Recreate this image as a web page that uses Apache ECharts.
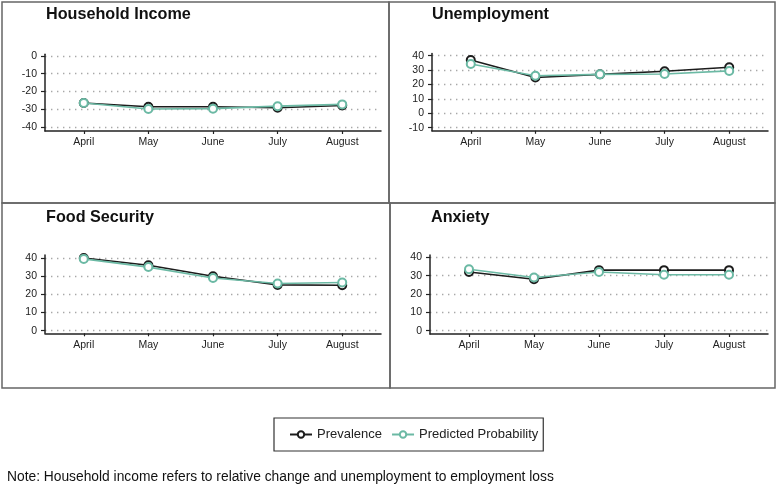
<!DOCTYPE html>
<html>
<head>
<meta charset="utf-8">
<script src="https://cdn.jsdelivr.net/npm/echarts@6/dist/echarts.min.js"></script>
<style>
html,body{margin:0;padding:0;background:#fff;}
#c{width:777px;height:486px;}
</style>
</head>
<body>
<div id="c"></div>
<script>
// ---- data ----
const months = ['April', 'May', 'June', 'July', 'August'];
const seriesNames = ['Prevalence', 'Predicted Probability'];
const panelTitles = ['Household Income', 'Unemployment', 'Food Security', 'Anxiety'];

const incomePrev = [-26.4, -28.5, -28.5, -29.1, -27.8];
const incomePred = [-26.4, -29.8, -29.6, -28.2, -27.2];
const unempPrev = [37, 24.8, 27, 29.2, 32];
const unempPred = [34.2, 26, 27, 27.3, 29.4];
const foodPrev = [40, 36, 30, 25.2, 25];
const foodPred = [39.5, 35, 29, 26, 26.5];
const anxPrev = [32, 28, 33, 33, 33];
const anxPred = [33.5, 29, 32, 30.5, 30.5];

const incomeTicks = [-40, -30, -20, -10, 0];
const unempTicks = [-10, 0, 10, 20, 30, 40];
const foodTicks = [0, 10, 20, 30, 40];
const anxTicks = [0, 10, 20, 30, 40];
const monthTicks = [0, 1, 2, 3, 4];

const noteText = 'Note: Household income refers to relative change and unemployment to employment loss';

// ---- layout / style ----
const FONT = 'Liberation Sans, Arial, Helvetica, sans-serif';
const colPrev = '#1c1c1c';
const colPred = '#6bb9a4';

const panels = [
  {title: panelTitles[0], prev: incomePrev, pred: incomePred, ticks: incomeTicks, ymin: -42.1, ymax: 0.84,
   grid: {left: 45, right: 396, top: 54.3, bottom: 355}, tx: 46, ty: 7},
  {title: panelTitles[1], prev: unempPrev, pred: unempPred, ticks: unempTicks, ymin: -12.2, ymax: 41.5,
   grid: {left: 432, right: 9, top: 53.5, bottom: 355.2}, tx: 432, ty: 7},
  {title: panelTitles[2], prev: foodPrev, pred: foodPred, ticks: foodTicks, ymin: -1.43, ymax: 41.65,
   grid: {left: 45, right: 396, top: 255, bottom: 152.7}, tx: 46, ty: 210},
  {title: panelTitles[3], prev: anxPrev, pred: anxPred, ticks: anxTicks, ymin: -1.8, ymax: 41.25,
   grid: {left: 430, right: 9, top: 255, bottom: 152}, tx: 431, ty: 210}
];

const grids = [], xAxes = [], yAxes = [], series = [], titles = [];
panels.forEach((p, i) => {
  grids.push(Object.assign({containLabel: false}, p.grid));
  titles.push({
    text: p.title, left: p.tx, top: p.ty, padding: 0,
    textStyle: {fontFamily: FONT, fontSize: 16.2, fontWeight: 'bold', color: '#111'}
  });
  xAxes.push({
    gridIndex: i, type: 'value', min: -0.6, max: 4.6, position: 'bottom',
    axisLine: {show: true, onZero: false, lineStyle: {color: '#222', width: 1.5}},
    axisTick: {show: true, length: 3, customValues: monthTicks, lineStyle: {color: '#222', width: 1.2}},
    axisLabel: {customValues: monthTicks, margin: 6, fontFamily: FONT, fontSize: 10.5, color: '#222',
      formatter: v => months[Math.round(v)] || ''},
    splitLine: {show: false}
  });
  yAxes.push({
    gridIndex: i, type: 'value', min: p.ymin, max: p.ymax, position: 'left',
    axisLine: {show: true, onZero: false, lineStyle: {color: '#222', width: 1.5}},
    axisTick: {show: true, length: 4, customValues: p.ticks, lineStyle: {color: '#222', width: 1.2}},
    axisLabel: {customValues: p.ticks, margin: 8, fontFamily: FONT, fontSize: 10.5, color: '#222'},
    splitLine: {show: true, showMinLine: true, showMaxLine: true,
      lineStyle: {color: '#a8a8a8', width: 1.4, type: [1.4, 4.6]}}
  });
  [[p.prev, colPrev, 0], [p.pred, colPred, 1]].forEach(([arr, col, k]) => {
    series.push({
      name: seriesNames[k], type: 'line', xAxisIndex: i, yAxisIndex: i,
      data: months.map((m, j) => [j, arr[j]]),
      symbol: 'emptyCircle', symbolSize: 8, showSymbol: true,
      lineStyle: {color: col, width: 1.6},
      itemStyle: {color: col, borderWidth: 1.2},
      z: 3 + k, animation: false
    });
  });
});

const option = {
  backgroundColor: '#fff',
  animation: false,
  title: titles,
  grid: grids,
  xAxis: xAxes,
  yAxis: yAxes,
  series: series,
  legend: {
    data: seriesNames, left: 274, top: 418, orient: 'horizontal',
    padding: [10, 5, 10, 15], itemGap: 9, itemWidth: 22, itemHeight: 8,
    borderColor: '#333', borderWidth: 1.2,
    textStyle: {fontFamily: FONT, fontSize: 13, color: '#222'}
  },
  graphic: [
    {type: 'rect', shape: {x: 2, y: 2, width: 387, height: 201}, style: {fill: 'none', stroke: '#666', lineWidth: 1.5}, silent: true},
    {type: 'rect', shape: {x: 389, y: 2, width: 386, height: 201}, style: {fill: 'none', stroke: '#666', lineWidth: 1.5}, silent: true},
    {type: 'rect', shape: {x: 2, y: 203, width: 388, height: 185}, style: {fill: 'none', stroke: '#666', lineWidth: 1.5}, silent: true},
    {type: 'rect', shape: {x: 390, y: 203, width: 385, height: 185}, style: {fill: 'none', stroke: '#666', lineWidth: 1.5}, silent: true},
    {type: 'text', left: 7, top: 470, style: {text: noteText, fontFamily: FONT, fontSize: 13.8, fill: '#111'}, silent: true}
  ]
};

const chart = echarts.init(document.getElementById('c'), null, {renderer: 'canvas'});
chart.setOption(option);
</script>
</body>
</html>
